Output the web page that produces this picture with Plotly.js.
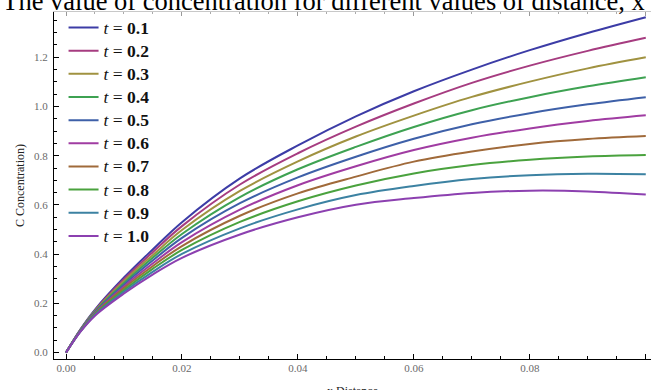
<!DOCTYPE html>
<html>
<head>
<meta charset="utf-8">
<script src="https://cdn.plot.ly/plotly-3.0.1.min.js"></script>
<style>html,body{margin:0;padding:0;background:#fff;overflow:hidden;width:651px;height:390px;}#chart{width:651px;height:398px;}</style>
</head>
<body>
<div id="chart"></div>
<script>
// x Distance
const xDistance = [0, 0.0025, 0.005, 0.01, 0.015, 0.02, 0.03, 0.04, 0.05, 0.06, 0.07, 0.08, 0.09, 0.1];
// C Concentration for each t
const c_t01 = [0, 0.095, 0.175, 0.305, 0.420, 0.530, 0.708, 0.842, 0.960, 1.062, 1.150, 1.229, 1.299, 1.363];
const c_t02 = [0, 0.094, 0.172, 0.298, 0.409, 0.514, 0.683, 0.810, 0.918, 1.012, 1.096, 1.166, 1.226, 1.279];
const c_t03 = [0, 0.093, 0.169, 0.291, 0.397, 0.498, 0.657, 0.777, 0.878, 0.963, 1.039, 1.101, 1.155, 1.200];
const c_t04 = [0, 0.092, 0.167, 0.283, 0.386, 0.482, 0.632, 0.745, 0.836, 0.917, 0.985, 1.038, 1.082, 1.119];
const c_t05 = [0, 0.091, 0.164, 0.276, 0.375, 0.466, 0.607, 0.712, 0.796, 0.869, 0.928, 0.973, 1.009, 1.038];
const c_t06 = [0, 0.089, 0.161, 0.269, 0.363, 0.449, 0.581, 0.680, 0.757, 0.823, 0.873, 0.911, 0.941, 0.964];
const c_t07 = [0, 0.088, 0.158, 0.262, 0.352, 0.433, 0.556, 0.647, 0.715, 0.776, 0.817, 0.848, 0.868, 0.880];
const c_t08 = [0, 0.087, 0.156, 0.254, 0.341, 0.417, 0.531, 0.615, 0.679, 0.728, 0.762, 0.784, 0.797, 0.803];
const c_t09 = [0, 0.086, 0.153, 0.247, 0.329, 0.401, 0.505, 0.582, 0.640, 0.677, 0.705, 0.721, 0.727, 0.725];
const c_t10 = [0, 0.085, 0.150, 0.240, 0.318, 0.385, 0.480, 0.550, 0.601, 0.628, 0.649, 0.658, 0.655, 0.642];

const seriesNames = ["0.1","0.2","0.3","0.4","0.5","0.6","0.7","0.8","0.9","1.0"];
const seriesValues = [c_t01,c_t02,c_t03,c_t04,c_t05,c_t06,c_t07,c_t08,c_t09,c_t10];
const seriesColors = ["#3c3ca6","#a63c80","#a09240","#3ea252","#3e60a8","#a03ca2","#a06a3a","#4aa23e","#3c82a2","#8c40b0"];

const xTickVals = [0, 0.02, 0.04, 0.06, 0.08, 0.10];
const xTickText = ["0.00","0.02","0.04","0.06","0.08","0.10"];
const yTickVals = [0, 0.2, 0.4, 0.6, 0.8, 1.0, 1.2];
const yTickText = ["0.0","0.2","0.4","0.6","0.8","1.0","1.2"];

const traces = seriesValues.map((v, i) => ({
  type: "scatter", mode: "lines", x: xDistance, y: v,
  name: "<span style=\"font-size:17.5px\"><i>t</i> = <b>" + seriesNames[i] + "</b></span>",
  line: {color: seriesColors[i], width: 2, shape: "spline", smoothing: 1}
}));

const serif = "Liberation Serif, Times New Roman, serif";
const tickFont = {family: serif, size: 11, color: "#6a6a6a"};
const layout = {
  width: 651, height: 398,
  margin: {l: 54, r: 0, t: 12, b: 39},
  paper_bgcolor: "#fff", plot_bgcolor: "#fff",
  showlegend: true,
  title: {text: "The value of concentration for different values of distance, x",
          font: {family: serif, size: 26.5, color: "#000"},
          x: 0.497, xanchor: "center", y: 0.999, yanchor: "middle", yref: "container"},
  legend: {x: 0.016, y: 1.003, xanchor: "left", yanchor: "top", maxheight: 390,
           bgcolor: "rgba(0,0,0,0)",
           font: {family: serif, size: 15.5, color: "#111"},
           itemwidth: 30, tracegroupgap: 0},
  xaxis: {range: [-0.00207, 0.1009], showgrid: false, zeroline: false,
          showline: true, linecolor: "#000", linewidth: 1,
          ticks: "inside", ticklen: 5, tickcolor: "#000", tickvals: xTickVals, ticktext: xTickText,
          minor: {dtick: 0.005, ticks: "inside", ticklen: 3, tickcolor: "#000", showgrid: false},
          tickfont: tickFont, ticklabelstandoff: -1,
          title: {text: "x Distance", font: {family: serif, size: 12, color: "#222"}, standoff: 14}},
  xaxis2: {range: [-0.00207, 0.1009], overlaying: "x", side: "top", showgrid: false, zeroline: false,
           showline: true, linecolor: "#c8c8c8", linewidth: 1, ticks: "inside", ticklen: 4, tickcolor: "#999",
           tickvals: xTickVals, showticklabels: false,
           minor: {dtick: 0.005, ticks: "inside", ticklen: 2, tickcolor: "#aaa", showgrid: false}},
  yaxis: {range: [-0.026, 1.384], showgrid: false, zeroline: false,
          showline: true, linecolor: "#000", linewidth: 1,
          ticks: "inside", ticklen: 5, tickcolor: "#000", tickvals: yTickVals, ticktext: yTickText,
          minor: {dtick: 0.05, ticks: "inside", ticklen: 3, tickcolor: "#000", showgrid: false},
          tickfont: tickFont, ticklabelstandoff: 3,
          title: {text: "C Concentration)", font: {family: serif, size: 12, color: "#222"}, standoff: 6}}
};
// invisible trace to activate the top frame axis
traces.push({type: "scatter", mode: "lines", x: [0, 0.1], y: [null, null], xaxis: "x2", showlegend: false, hoverinfo: "skip"});

Plotly.newPlot("chart", traces, layout, {staticPlot: true, displayModeBar: false});
</script>
</body>
</html>
